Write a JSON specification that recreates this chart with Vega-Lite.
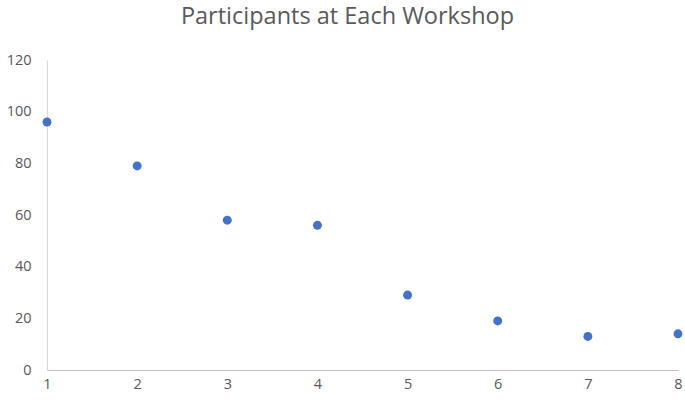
{
  "$schema": "https://vega.github.io/schema/vega-lite/v6.json",
  "autosize": "none",
  "width": 631,
  "height": 310,
  "padding": {"left": 47, "top": 60, "right": 7, "bottom": 32},
  "background": "white",
  "title": {
    "text": "Participants at Each Workshop",
    "font": "Open Sans",
    "fontSize": 23.5,
    "fontWeight": "normal",
    "color": "#595959",
    "anchor": "middle",
    "dx": -15,
    "offset": 24
  },
  "data": {
    "values": [
      {"workshop": 1, "participants": 96},
      {"workshop": 2, "participants": 79},
      {"workshop": 3, "participants": 58},
      {"workshop": 4, "participants": 56},
      {"workshop": 5, "participants": 29},
      {"workshop": 6, "participants": 19},
      {"workshop": 7, "participants": 13},
      {"workshop": 8, "participants": 14}
    ]
  },
  "mark": {"type": "circle", "size": 80, "color": "#4472C4", "opacity": 1},
  "encoding": {
    "x": {
      "field": "workshop",
      "type": "quantitative",
      "scale": {"domain": [1, 8], "nice": false, "zero": false},
      "axis": {
        "title": null,
        "values": [1, 2, 3, 4, 5, 6, 7, 8],
        "grid": false,
        "ticks": false,
        "domainColor": "#BFBFBF",
        "labelColor": "#595959",
        "labelFont": "Open Sans",
        "labelFontSize": 14.5,
        "labelPadding": 7,
        "labelFlush": false
      }
    },
    "y": {
      "field": "participants",
      "type": "quantitative",
      "scale": {"domain": [0, 120], "nice": false},
      "axis": {
        "title": null,
        "values": [0, 20, 40, 60, 80, 100, 120],
        "grid": false,
        "ticks": false,
        "domainColor": "#D9D9D9",
        "labelColor": "#595959",
        "labelFont": "Open Sans",
        "labelFontSize": 14.5,
        "labelPadding": 16
      }
    }
  },
  "config": {"view": {"stroke": null}}
}
